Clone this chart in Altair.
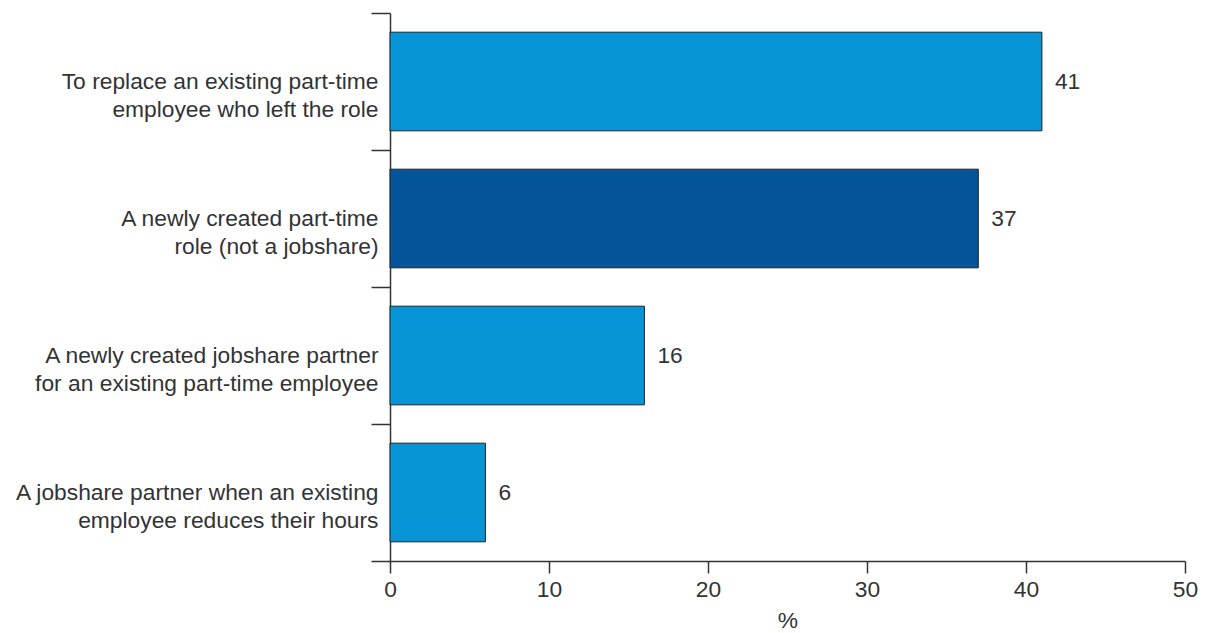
import altair as alt
import pandas as pd

categories = [
    "To replace an existing part-time|employee who left the role",
    "A newly created part-time|role (not a jobshare)",
    "A newly created jobshare partner|for an existing part-time employee",
    "A jobshare partner when an existing|employee reduces their hours",
]
values = [41, 37, 16, 6]
groups = ["light", "dark", "light", "light"]

df = pd.DataFrame({"cat": categories, "val": values, "grp": groups})

FONT = "Liberation Sans"
TXT = "#333333"
FS = 22.8

y_enc = alt.Y(
    "cat:N",
    sort=categories,
    title=None,
    scale=alt.Scale(paddingInner=0, paddingOuter=0),
    axis=alt.Axis(
        labelExpr="split(datum.label, '|')",
        labelFont=FONT,
        labelFontSize=FS,
        labelColor=TXT,
        labelLineHeight=28,
        labelPadding=-7,
        tickBand="extent",
        tickSize=19,
        tickColor="#333333",
        tickWidth=1.5,
        domainColor="#333333",
        domainWidth=1.5,
        labelLimit=400,
    ),
)

x_enc = alt.X(
    "val:Q",
    title="%",
    scale=alt.Scale(domain=[0, 50], nice=False),
    axis=alt.Axis(
        values=[0, 10, 20, 30, 40, 50],
        labelFont=FONT,
        labelFontSize=FS,
        labelColor=TXT,
        labelPadding=5,
        labelFlush=False,
        tickSize=12,
        tickColor="#333333",
        tickWidth=1.5,
        domainColor="#333333",
        domainWidth=1.5,
        titleFont=FONT,
        titleFontSize=FS,
        titleFontWeight="normal",
        titleColor=TXT,
        titlePadding=9,
        grid=False,
    ),
)

bars = alt.Chart(df).mark_bar(
    stroke="#222222", strokeWidth=1, height=alt.RelativeBandSize(0.72)
).encode(
    y=y_enc,
    x=x_enc,
    color=alt.Color(
        "grp:N",
        scale=alt.Scale(domain=["light", "dark"], range=["#0895d8", "#04549a"]),
        legend=None,
    ),
)

labels = alt.Chart(df).mark_text(
    align="left", baseline="middle", dx=13, font=FONT, fontSize=FS, color=TXT
).encode(
    y=alt.Y("cat:N", sort=categories),
    x=alt.X("val:Q"),
    text=alt.Text("val:Q"),
)

chart = (
    alt.layer(bars, labels)
    .properties(
        width=795,
        height=548,
        autosize=alt.AutoSizeParams(type="none"),
        padding={"left": 382, "top": 5, "right": 13, "bottom": 80},
        view=alt.ViewBackground(stroke="transparent", strokeWidth=0),
    )
    .configure_view(strokeWidth=0, stroke="transparent")
    .configure(background="white")
)

chart.save("out.html", embed_options={"renderer": "svg", "actions": False})
